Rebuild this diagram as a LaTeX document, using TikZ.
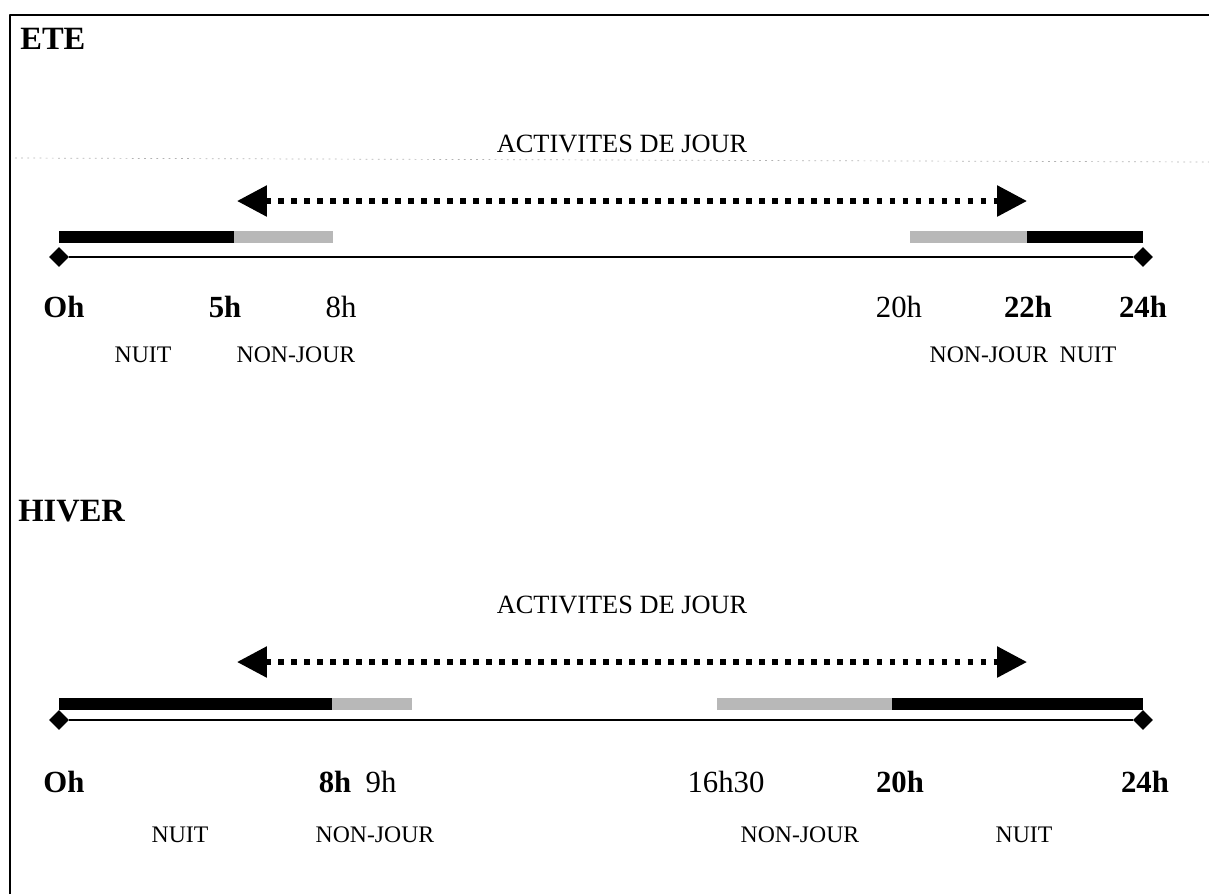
\documentclass[tikz,border=0pt]{standalone}
\usepackage{fontspec}
\setmainfont{Liberation Serif}
\usetikzlibrary{arrows.meta,shapes.geometric}
\begin{document}
\begin{tikzpicture}[x=0.02cm, y=-0.02cm, line join=round, >={Triangle[length=17pt,width=17pt]},
  saison/.style={anchor=west, inner sep=0, font=\fontsize{18.5}{20}\selectfont\bfseries},
  hmaigre/.style={inner sep=0, font=\fontsize{17.5}{19}\selectfont},
  hgras/.style={inner sep=0, font=\fontsize{17.5}{19}\selectfont\bfseries},
  periode/.style={inner sep=0, font=\fontsize{13.5}{15}\selectfont},
  activ/.style={inner sep=0, font=\fontsize{15}{17}\selectfont},
  borne/.style={diamond, fill, inner sep=0, minimum size=0.4cm},
  nuit/.style={fill=black},
  nonjour/.style={fill=black!28},
  fleche/.style={<->, line width=3.3pt, dash pattern=on 3.4pt off 4pt}]
\useasboundingbox (0,0) rectangle (1209,894);
% cadre
\draw[line width=0.8pt] (10,894)--(10,15)--(1209,15);
% ETE
\node[saison] (ete) at (20,39) {ETE};
\draw[gray!60, line width=0.4pt, dash pattern=on 1pt off 2.5pt] (15,158)--(1209,162);
\node[activ] (ete-act) at (622,144) {ACTIVITES DE JOUR};
\coordinate (ete-a) at (237,201); \coordinate (ete-b) at (1027,201);
\draw[fleche] (ete-a)--(ete-b);
\fill[nuit] (59,231) rectangle (234,243);
\fill[nonjour] (234,231) rectangle (333,243);
\fill[nonjour] (910,231) rectangle (1027,243);
\fill[nuit] (1027,231) rectangle (1143,243);
\node[borne] (ete-0) at (59,257) {};
\node[borne] (ete-24) at (1143,257) {};
\draw[line width=1.1pt] (ete-0)--(ete-24);
\foreach \x/\h/\s in {64/Oh/hgras, 225/5h/hgras, 341/8h/hmaigre, 899/20h/hmaigre, 1028/22h/hgras, 1143/24h/hgras}
  \node[\s] (ete-h\x) at (\x,307) {\h};
\foreach \x/\p in {143/NUIT, 296/NON-JOUR, 989/NON-JOUR, 1088/NUIT}
  \node[periode] (ete-p\x) at (\x,355) {\p};
% HIVER
\node[saison] (hiver) at (18,511) {HIVER};
\node[activ] (hiv-act) at (622,605) {ACTIVITES DE JOUR};
\coordinate (hiv-a) at (237,662); \coordinate (hiv-b) at (1027,662);
\draw[fleche] (hiv-a)--(hiv-b);
\fill[nuit] (59,698) rectangle (332,710);
\fill[nonjour] (332,698) rectangle (412,710);
\fill[nonjour] (717,698) rectangle (892,710);
\fill[nuit] (892,698) rectangle (1143,710);
\node[borne] (hiv-0) at (59,720) {};
\node[borne] (hiv-24) at (1143,720) {};
\draw[line width=1.1pt] (hiv-0)--(hiv-24);
\foreach \x/\h/\s in {64/Oh/hgras, 335/8h/hgras, 381/9h/hmaigre, 726/16h30/hmaigre, 900/20h/hgras, 1145/24h/hgras}
  \node[\s] (hiv-h\x) at (\x,782) {\h};
\foreach \x/\p in {180/NUIT, 375/NON-JOUR, 800/NON-JOUR, 1024/NUIT}
  \node[periode] (hiv-p\x) at (\x,835) {\p};
\end{tikzpicture}
\end{document}
